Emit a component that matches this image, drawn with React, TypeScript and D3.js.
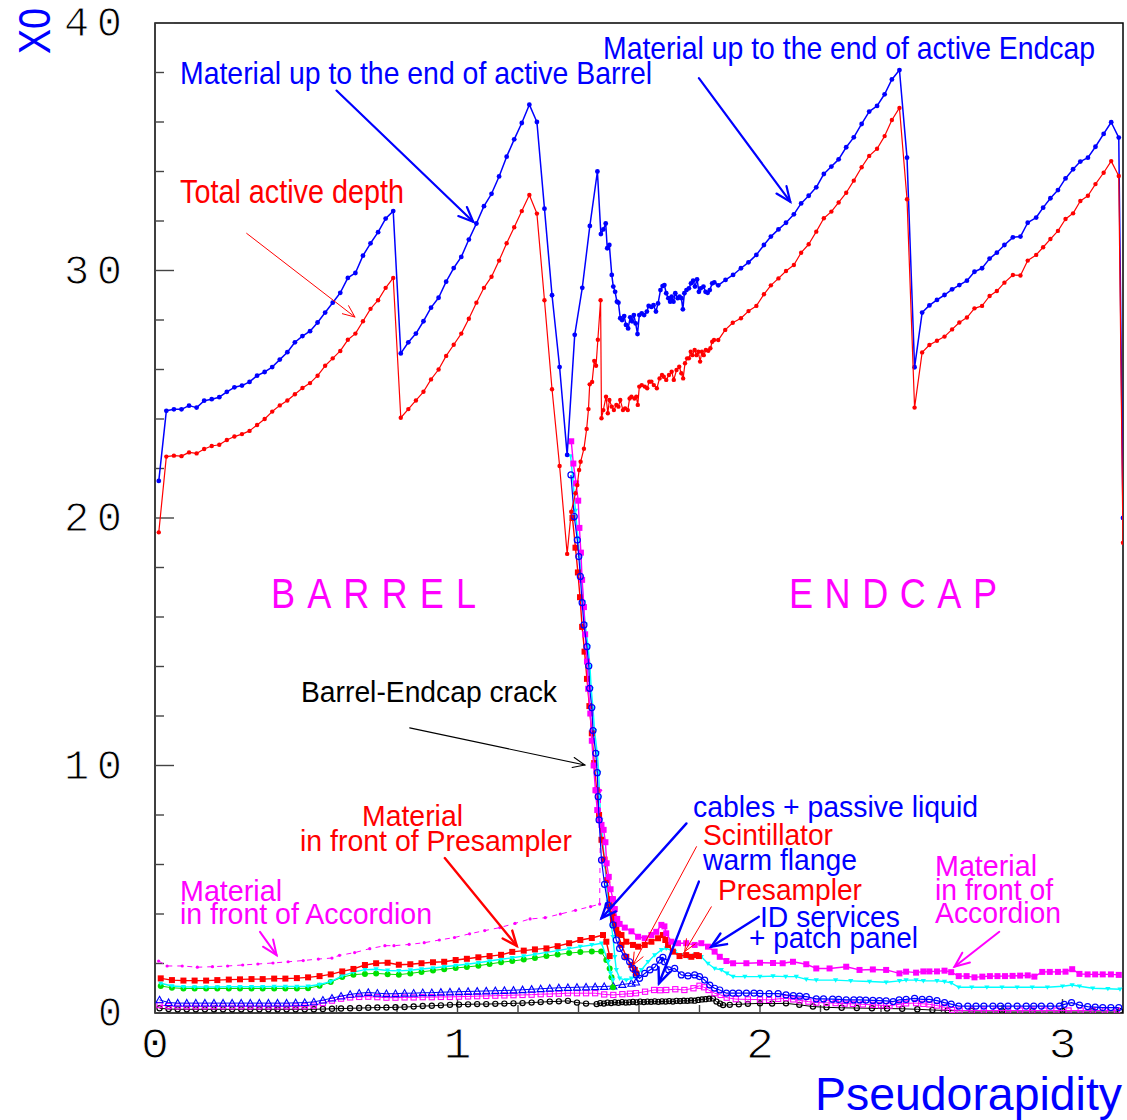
import React from "react";
import * as d3 from "d3";

type Pt = [number, number];

// ---------- data : [pseudorapidity, X0] ----------

// blue: material up to the end of the active calorimeter
const activeEnd: Pt[] = [
  [0.0125, 21.5], [0.0375, 24.33], [0.0625, 24.39], [0.0875, 24.39], [0.1125, 24.54], [0.1375, 24.46],
  [0.1625, 24.74], [0.1875, 24.8], [0.2125, 24.88], [0.2375, 25.1], [0.2625, 25.28], [0.2875, 25.35],
  [0.3125, 25.5], [0.3375, 25.75], [0.3625, 25.9], [0.3875, 26.1], [0.4125, 26.4], [0.4375, 26.7],
  [0.4625, 27.1], [0.4875, 27.35], [0.5125, 27.55], [0.5375, 27.9], [0.5625, 28.3], [0.5875, 28.7],
  [0.6125, 29.1], [0.6375, 29.7], [0.6625, 29.9], [0.6875, 30.6], [0.7125, 31.1], [0.7375, 31.55],
  [0.7625, 32.1], [0.7875, 32.4], [0.8125, 26.65], [0.8375, 27.1], [0.8625, 27.45], [0.8875, 27.95],
  [0.9125, 28.5], [0.9375, 28.9], [0.9625, 29.55], [0.9875, 30.1], [1.0125, 30.55], [1.0375, 31.25],
  [1.0625, 31.9], [1.0875, 32.6], [1.1125, 33.1], [1.1375, 33.8], [1.1625, 34.6], [1.1875, 35.3],
  [1.2125, 35.96], [1.2375, 36.7], [1.2625, 36.0], [1.2875, 32.5], [1.3125, 29.0], [1.3375, 26.1],
  [1.3625, 22.55], [1.3875, 27.4], [1.4125, 29.3], [1.4375, 31.8], [1.4625, 34.0],
  [1.474, 31.47], [1.482, 31.66], [1.49, 31.9], [1.495, 30.9], [1.502, 31.03], [1.51, 29.82],
  [1.515, 29.35], [1.521, 29.14], [1.527, 28.74], [1.532, 28.7], [1.538, 28.07], [1.544, 28.0],
  [1.551, 28.16], [1.557, 27.8], [1.564, 27.66], [1.571, 28.11], [1.577, 27.95], [1.583, 28.2],
  [1.589, 27.86], [1.595, 27.43], [1.601, 28.2], [1.609, 28.27], [1.617, 28.2], [1.626, 28.34],
  [1.632, 28.57], [1.641, 28.53], [1.648, 28.6], [1.656, 28.34], [1.663, 28.67], [1.671, 29.21],
  [1.678, 29.37], [1.684, 29.41], [1.69, 29.08], [1.697, 28.88], [1.703, 28.74], [1.708, 28.94],
  [1.714, 28.74], [1.72, 29.08], [1.728, 28.88], [1.734, 28.94], [1.74, 28.88], [1.745, 28.43],
  [1.75, 29.08], [1.757, 29.21], [1.765, 29.28], [1.772, 29.48], [1.779, 29.59], [1.785, 29.35],
  [1.792, 29.64], [1.798, 29.14], [1.804, 29.28], [1.813, 29.35], [1.82, 29.14], [1.827, 29.1],
  [1.834, 29.21], [1.842, 29.48], [1.849, 29.52],
  [1.862, 29.4], [1.886, 29.62], [1.911, 29.82], [1.937, 30.09], [1.962, 30.33], [1.988, 30.63],
  [2.013, 31.03], [2.036, 31.37], [2.061, 31.66], [2.086, 31.93], [2.112, 32.27], [2.136, 32.71],
  [2.161, 33.02], [2.186, 33.36], [2.211, 33.9], [2.236, 34.2], [2.26, 34.49], [2.285, 34.98],
  [2.31, 35.38], [2.336, 35.92], [2.361, 36.42], [2.387, 36.65], [2.412, 37.12], [2.436, 37.72],
  [2.461, 38.1], [2.486, 34.56], [2.511, 26.09], [2.536, 28.3], [2.56, 28.59], [2.585, 28.81],
  [2.61, 29.01], [2.635, 29.24], [2.659, 29.41], [2.684, 29.59], [2.709, 29.95], [2.734, 30.09],
  [2.759, 30.48], [2.783, 30.72], [2.808, 31.03], [2.836, 31.34], [2.861, 31.37], [2.885, 31.93],
  [2.913, 32.14], [2.936, 32.54], [2.96, 32.92], [2.985, 33.25], [3.01, 33.72], [3.035, 34.09],
  [3.059, 34.4], [3.084, 34.56], [3.109, 35.0], [3.136, 35.52], [3.161, 35.99], [3.186, 35.37],
  [3.2, 20.0],
];

// red: total active depth
const activeDepth: Pt[] = [
  [0.0125, 19.42], [0.0375, 22.48], [0.0625, 22.52], [0.0875, 22.5], [0.1125, 22.65], [0.1375, 22.61],
  [0.1625, 22.79], [0.1875, 22.91], [0.2125, 22.96], [0.2375, 23.15], [0.2625, 23.29], [0.2875, 23.39],
  [0.3125, 23.52], [0.3375, 23.76], [0.3625, 24.0], [0.3875, 24.3], [0.4125, 24.55], [0.4375, 24.75],
  [0.4625, 25.0], [0.4875, 25.25], [0.5125, 25.45], [0.5375, 25.75], [0.5625, 26.15], [0.5875, 26.45],
  [0.6125, 26.75], [0.6375, 27.2], [0.6625, 27.45], [0.6875, 27.95], [0.7125, 28.45], [0.7375, 28.8],
  [0.7625, 29.3], [0.7875, 29.7], [0.8125, 24.05], [0.8375, 24.4], [0.8625, 24.75], [0.8875, 25.1],
  [0.9125, 25.6], [0.9375, 26.0], [0.9625, 26.55], [0.9875, 27.0], [1.0125, 27.45], [1.0375, 28.05],
  [1.0625, 28.7], [1.0875, 29.3], [1.1125, 29.75], [1.1375, 30.4], [1.1625, 31.1], [1.1875, 31.75],
  [1.2125, 32.4], [1.2375, 33.05], [1.2625, 32.3], [1.2875, 28.8], [1.3125, 25.2], [1.3375, 22.1],
  [1.3625, 18.55], [1.376, 20.25], [1.39, 21.0], [1.396, 21.33], [1.402, 21.94], [1.407, 22.27],
  [1.418, 22.8], [1.427, 23.6], [1.433, 24.4], [1.437, 25.4], [1.445, 25.5], [1.452, 26.35],
  [1.458, 26.15], [1.464, 27.2], [1.473, 28.8], [1.476, 24.03],
  [1.482, 24.36], [1.491, 24.9], [1.497, 24.23], [1.502, 24.77], [1.51, 24.5], [1.517, 24.36],
  [1.525, 24.57], [1.532, 24.5], [1.538, 24.77], [1.547, 24.36], [1.554, 24.43], [1.563, 24.36],
  [1.569, 24.83], [1.575, 24.9], [1.585, 24.83], [1.591, 24.9], [1.596, 24.57], [1.601, 25.31],
  [1.609, 25.37], [1.619, 25.31], [1.627, 25.24], [1.634, 25.51], [1.641, 25.51], [1.649, 25.37],
  [1.659, 25.24], [1.668, 25.64], [1.676, 25.78], [1.682, 25.71], [1.69, 25.58], [1.699, 25.78],
  [1.708, 25.91], [1.715, 25.58], [1.724, 25.98], [1.733, 26.11], [1.74, 25.85], [1.746, 25.64],
  [1.752, 26.25], [1.759, 26.45], [1.765, 26.45], [1.771, 26.72], [1.776, 26.58], [1.784, 26.79],
  [1.79, 26.58], [1.796, 26.72], [1.802, 26.32], [1.808, 26.72], [1.814, 26.58], [1.821, 26.79],
  [1.829, 26.76], [1.836, 26.86], [1.842, 27.12], [1.848, 27.19],
  [1.862, 27.19], [1.885, 27.6], [1.91, 27.89], [1.937, 28.07], [1.962, 28.36], [1.988, 28.57],
  [2.013, 29.04], [2.036, 29.4], [2.061, 29.68], [2.086, 29.98], [2.112, 30.22], [2.136, 30.72],
  [2.161, 31.06], [2.186, 31.57], [2.211, 32.11], [2.236, 32.38], [2.26, 32.75], [2.285, 33.14],
  [2.31, 33.63], [2.336, 34.17], [2.361, 34.63], [2.387, 34.92], [2.412, 35.43], [2.436, 36.08],
  [2.461, 36.57], [2.486, 32.88], [2.511, 24.46], [2.536, 26.69], [2.56, 26.99], [2.585, 27.16],
  [2.61, 27.33], [2.635, 27.62], [2.659, 27.9], [2.684, 28.1], [2.709, 28.47], [2.734, 28.57],
  [2.759, 28.97], [2.783, 29.17], [2.808, 29.51], [2.836, 29.82], [2.861, 29.8], [2.885, 30.4],
  [2.913, 30.63], [2.936, 30.94], [2.96, 31.27], [2.985, 31.6], [3.01, 32.08], [3.035, 32.31],
  [3.059, 32.81], [3.084, 33.02], [3.109, 33.49], [3.136, 33.95], [3.161, 34.42], [3.186, 33.82],
  [3.2, 19.0],
];

// magenta dash-dot: material in front of accordion (barrel)
const accordionBarrel: Pt[] = [
  [0.012, 2.1], [0.04, 1.9], [0.09, 1.9], [0.14, 1.85], [0.19, 1.87], [0.24, 1.9], [0.29, 1.94],
  [0.34, 1.98], [0.39, 2.02], [0.44, 2.07], [0.49, 2.12], [0.54, 2.18], [0.585, 2.22], [0.61, 2.33],
  [0.66, 2.44], [0.71, 2.6], [0.76, 2.72], [0.79, 2.72], [0.84, 2.77], [0.89, 2.84], [0.94, 2.95],
  [0.99, 3.05], [1.04, 3.2], [1.09, 3.33], [1.14, 3.45], [1.19, 3.62], [1.24, 3.8], [1.29, 3.85],
  [1.34, 4.0], [1.39, 4.15], [1.44, 4.3], [1.47, 4.4], [1.473, 9.0],
];

// magenta squares: material in front of accordion (crack + endcap)
const accordionEndcap: Pt[] = [
  [1.376, 23.1], [1.383, 22.2], [1.392, 21.4], [1.399, 20.7], [1.403, 19.6], [1.408, 18.6], [1.412, 17.5],
  [1.418, 16.4], [1.422, 15.3], [1.428, 14.2], [1.432, 13.1], [1.439, 12.1], [1.444, 11.0], [1.45, 10.0],
  [1.456, 9.0], [1.462, 8.2], [1.469, 7.8], [1.476, 7.6], [1.483, 7.4], [1.489, 6.9], [1.493, 6.05],
  [1.5, 5.5], [1.506, 5.0], [1.514, 4.6], [1.52, 4.2], [1.528, 3.8], [1.536, 3.6], [1.553, 3.45],
  [1.575, 3.3], [1.597, 3.08], [1.619, 3.02], [1.641, 3.15], [1.657, 3.28], [1.674, 3.56], [1.684, 3.5],
  [1.69, 3.22], [1.707, 2.88], [1.729, 2.82], [1.756, 2.82], [1.784, 2.75], [1.806, 2.82], [1.828, 2.68],
  [1.85, 2.48], [1.867, 2.27], [1.889, 2.1], [1.911, 2.01], [1.955, 2.01], [2.0, 2.03], [2.043, 2.02],
  [2.075, 2.01], [2.109, 2.07], [2.153, 1.97], [2.186, 1.8], [2.23, 1.8], [2.285, 1.87], [2.329, 1.74],
  [2.373, 1.76], [2.417, 1.74], [2.461, 1.6], [2.483, 1.67], [2.516, 1.63], [2.54, 1.68], [2.56, 1.68],
  [2.585, 1.68], [2.61, 1.71], [2.632, 1.65], [2.657, 1.49], [2.683, 1.49], [2.709, 1.44], [2.735, 1.47],
  [2.76, 1.49], [2.785, 1.49], [2.81, 1.49], [2.835, 1.5], [2.86, 1.51], [2.885, 1.52], [2.907, 1.47],
  [2.933, 1.66], [2.958, 1.66], [2.985, 1.66], [3.01, 1.67], [3.032, 1.77], [3.056, 1.58], [3.083, 1.56],
  [3.108, 1.56], [3.133, 1.56], [3.16, 1.56], [3.186, 1.54],
];

// red squares: material in front of presampler (barrel)
const presamplerBarrel: Pt[] = [
  [0.019, 1.4], [0.056, 1.33], [0.094, 1.31], [0.131, 1.31], [0.169, 1.31], [0.206, 1.33], [0.244, 1.35],
  [0.281, 1.36], [0.319, 1.37], [0.356, 1.37], [0.394, 1.39], [0.431, 1.39], [0.469, 1.41], [0.506, 1.44],
  [0.544, 1.49], [0.581, 1.56], [0.619, 1.68], [0.656, 1.78], [0.694, 1.94], [0.731, 2.01], [0.769, 2.03],
  [0.806, 1.95], [0.844, 1.97], [0.881, 2.01], [0.919, 2.05], [0.956, 2.07], [0.994, 2.14], [1.031, 2.19],
  [1.069, 2.25], [1.106, 2.3], [1.144, 2.35], [1.181, 2.47], [1.219, 2.52], [1.256, 2.57], [1.294, 2.61],
  [1.331, 2.7], [1.369, 2.82], [1.406, 2.95], [1.444, 3.03], [1.481, 3.15], [1.492, 2.88], [1.503, 2.3],
];

// red squares: material in front of presampler (crack + endcap side)
const presamplerCrack: Pt[] = [
  [1.38, 20.0], [1.39, 18.8], [1.398, 17.8], [1.405, 16.8], [1.412, 15.6], [1.42, 14.6], [1.428, 13.5],
  [1.436, 12.4], [1.444, 11.3], [1.452, 10.1], [1.46, 9.0], [1.468, 8.0], [1.476, 7.0], [1.486, 6.2],
  [1.495, 5.37], [1.503, 4.3], [1.514, 3.76], [1.525, 3.42], [1.542, 3.15], [1.558, 2.88], [1.58, 2.75],
  [1.597, 2.68], [1.619, 2.75], [1.641, 2.88], [1.663, 3.02], [1.679, 3.15], [1.687, 2.95], [1.696, 2.75],
  [1.712, 2.48], [1.734, 2.3], [1.756, 2.34], [1.773, 2.27], [1.79, 2.34], [1.798, 2.3],
];

// red squares: scintillator
const scintillator: Pt[] = [
  [1.509, 4.6], [1.514, 4.0], [1.52, 3.62], [1.53, 3.2], [1.542, 2.75], [1.558, 2.27], [1.575, 1.94],
  [1.586, 1.74], [1.591, 1.6],
];

// cyan: barrel part
const cyanBarrel: Pt[] = [
  [0.019, 1.2], [0.056, 1.09], [0.094, 1.06], [0.131, 1.05], [0.169, 1.05], [0.206, 1.05], [0.244, 1.06],
  [0.281, 1.06], [0.319, 1.06], [0.356, 1.06], [0.394, 1.07], [0.431, 1.07], [0.469, 1.07], [0.506, 1.08],
  [0.544, 1.15], [0.581, 1.27], [0.619, 1.5], [0.656, 1.65], [0.694, 1.75], [0.731, 1.77], [0.769, 1.72],
  [0.806, 1.7], [0.844, 1.73], [0.881, 1.78], [0.919, 1.82], [0.956, 1.87], [0.994, 1.92], [1.031, 1.97],
  [1.069, 2.03], [1.106, 2.1], [1.144, 2.17], [1.181, 2.23], [1.219, 2.3], [1.256, 2.37], [1.294, 2.45],
  [1.331, 2.52], [1.369, 2.6], [1.406, 2.68], [1.444, 2.75], [1.476, 2.82], [1.498, 2.07], [1.506, 1.6],
  [1.514, 1.33],
];

// cyan: crack + endcap part
const cyanEndcap: Pt[] = [
  [1.374, 22.5], [1.381, 21.6], [1.39, 20.3], [1.398, 19.2], [1.404, 18.4], [1.41, 17.6], [1.416, 16.6],
  [1.422, 15.7], [1.432, 14.8], [1.438, 14.0], [1.442, 13.1], [1.448, 12.3], [1.453, 11.4], [1.462, 10.5],
  [1.467, 9.7], [1.47, 8.7], [1.474, 7.8], [1.48, 7.0], [1.488, 5.9], [1.493, 5.1], [1.498, 4.5],
  [1.503, 4.03], [1.509, 3.5], [1.514, 3.08], [1.52, 2.27], [1.525, 1.74], [1.536, 1.4], [1.558, 1.33],
  [1.575, 1.4], [1.591, 1.47], [1.608, 1.74], [1.63, 2.07], [1.652, 2.34], [1.674, 2.55], [1.69, 2.61],
  [1.718, 2.48], [1.74, 2.34], [1.762, 2.27], [1.784, 2.34], [1.806, 2.27], [1.828, 2.0], [1.85, 1.8],
  [1.872, 1.74], [1.891, 1.6], [1.911, 1.47], [1.95, 1.47], [2.0, 1.47], [2.043, 1.49], [2.085, 1.47],
  [2.12, 1.47], [2.153, 1.36], [2.186, 1.33], [2.25, 1.33], [2.3, 1.3], [2.362, 1.27], [2.417, 1.24],
  [2.461, 1.3], [2.483, 1.33], [2.516, 1.33], [2.54, 1.3], [2.585, 1.3], [2.61, 1.27], [2.632, 1.22],
  [2.657, 1.04], [2.7, 1.04], [2.75, 1.04], [2.8, 1.04], [2.85, 1.04], [2.9, 1.04], [2.95, 1.04],
  [3.0, 1.08], [3.032, 1.13], [3.056, 1.08], [3.1, 1.0], [3.15, 0.98], [3.19, 0.96],
];

// green dots (barrel only)
const greenBarrel: Pt[] = [
  [0.019, 1.09], [0.056, 1.02], [0.094, 0.99], [0.131, 0.99], [0.169, 0.99], [0.206, 0.99], [0.244, 0.99],
  [0.281, 0.99], [0.319, 0.99], [0.356, 0.99], [0.394, 0.99], [0.431, 0.99], [0.469, 0.99], [0.506, 1.0],
  [0.544, 1.1], [0.581, 1.25], [0.619, 1.45], [0.656, 1.55], [0.694, 1.58], [0.731, 1.6], [0.769, 1.57],
  [0.806, 1.55], [0.844, 1.6], [0.881, 1.66], [0.919, 1.72], [0.956, 1.77], [0.994, 1.82], [1.031, 1.86],
  [1.069, 1.91], [1.106, 1.98], [1.144, 2.05], [1.181, 2.1], [1.219, 2.16], [1.256, 2.22], [1.294, 2.3],
  [1.331, 2.36], [1.369, 2.42], [1.406, 2.46], [1.444, 2.48], [1.475, 2.48], [1.492, 2.14], [1.503, 1.8],
  [1.509, 1.44], [1.514, 1.04],
];

// blue open triangles
const blueTriangles: Pt[] = [
  [0.015, 0.53], [0.045, 0.42], [0.075, 0.4], [0.105, 0.4], [0.135, 0.4], [0.165, 0.4], [0.195, 0.4],
  [0.225, 0.4], [0.255, 0.4], [0.285, 0.4], [0.315, 0.4], [0.345, 0.4], [0.375, 0.4], [0.405, 0.4],
  [0.435, 0.4], [0.465, 0.41], [0.495, 0.42], [0.525, 0.45], [0.555, 0.52], [0.585, 0.6], [0.615, 0.68],
  [0.645, 0.75], [0.675, 0.8], [0.705, 0.83], [0.735, 0.8], [0.765, 0.78], [0.795, 0.78], [0.825, 0.8],
  [0.855, 0.8], [0.885, 0.82], [0.915, 0.82], [0.945, 0.84], [0.975, 0.85], [1.005, 0.86], [1.035, 0.87],
  [1.065, 0.88], [1.095, 0.89], [1.125, 0.9], [1.155, 0.91], [1.185, 0.92], [1.215, 0.94], [1.245, 0.96],
  [1.275, 0.98], [1.305, 1.0], [1.335, 1.02], [1.365, 1.03], [1.395, 1.04], [1.425, 1.05], [1.455, 1.06],
  [1.485, 1.07], [1.515, 1.09], [1.545, 1.15], [1.575, 1.2], [1.59, 1.25],
];

// magenta open squares
const magentaOpen: Pt[] = [
  [0.015, 0.32], [0.045, 0.28], [0.075, 0.27], [0.105, 0.27], [0.135, 0.27], [0.165, 0.27], [0.195, 0.27],
  [0.225, 0.27], [0.255, 0.27], [0.285, 0.27], [0.315, 0.27], [0.345, 0.27], [0.375, 0.27], [0.405, 0.27],
  [0.435, 0.27], [0.465, 0.27], [0.495, 0.27], [0.525, 0.3], [0.555, 0.4], [0.585, 0.5], [0.615, 0.58],
  [0.645, 0.63], [0.675, 0.65], [0.705, 0.66], [0.735, 0.64], [0.765, 0.62], [0.795, 0.62], [0.825, 0.63],
  [0.855, 0.63], [0.885, 0.64], [0.915, 0.64], [0.945, 0.65], [0.975, 0.65], [1.005, 0.66], [1.035, 0.67],
  [1.065, 0.68], [1.095, 0.69], [1.125, 0.7], [1.155, 0.71], [1.185, 0.72], [1.215, 0.73], [1.245, 0.74],
  [1.275, 0.76], [1.305, 0.77], [1.335, 0.78], [1.365, 0.8], [1.395, 0.8], [1.425, 0.8], [1.455, 0.8],
  [1.485, 0.75], [1.515, 0.73], [1.545, 0.76], [1.57, 0.78], [1.59, 0.8], [1.62, 0.86], [1.65, 0.93],
  [1.67, 0.92], [1.69, 0.93], [1.72, 0.96], [1.75, 0.93], [1.78, 1.0], [1.8, 1.1], [1.815, 1.04],
  [1.83, 0.93], [1.85, 0.8], [1.87, 0.73], [1.89, 0.62], [1.92, 0.56], [1.96, 0.55], [2.0, 0.54],
  [2.03, 0.53], [2.06, 0.57], [2.086, 0.6], [2.11, 0.55], [2.131, 0.51], [2.16, 0.46], [2.186, 0.42],
  [2.22, 0.41], [2.25, 0.4], [2.28, 0.38], [2.307, 0.37], [2.34, 0.35], [2.373, 0.33], [2.4, 0.31],
  [2.428, 0.3], [2.46, 0.35], [2.483, 0.39], [2.516, 0.4], [2.54, 0.37], [2.56, 0.35], [2.585, 0.3],
  [2.61, 0.23], [2.635, 0.12], [2.66, 0.1], [2.7, 0.1], [2.74, 0.1], [2.78, 0.1], [2.82, 0.1],
  [2.86, 0.1], [2.9, 0.1], [2.94, 0.1], [2.98, 0.1], [3.02, 0.1], [3.06, 0.1], [3.1, 0.1],
  [3.14, 0.1], [3.18, 0.1],
];

// black open circles
const blackCircles: Pt[] = [
  [0.015, 0.19], [0.045, 0.16], [0.075, 0.15], [0.105, 0.15], [0.135, 0.15], [0.165, 0.15], [0.195, 0.15],
  [0.225, 0.15], [0.255, 0.15], [0.285, 0.15], [0.315, 0.15], [0.345, 0.15], [0.375, 0.15], [0.405, 0.15],
  [0.435, 0.15], [0.465, 0.15], [0.495, 0.15], [0.525, 0.15], [0.555, 0.16], [0.585, 0.17], [0.615, 0.18],
  [0.645, 0.19], [0.675, 0.2], [0.705, 0.21], [0.735, 0.22], [0.765, 0.22], [0.795, 0.23], [0.825, 0.24],
  [0.855, 0.26], [0.885, 0.28], [0.915, 0.29], [0.945, 0.31], [0.975, 0.33], [1.005, 0.34], [1.035, 0.35],
  [1.065, 0.36], [1.095, 0.36], [1.125, 0.37], [1.155, 0.38], [1.185, 0.39], [1.215, 0.4], [1.245, 0.42],
  [1.275, 0.44], [1.305, 0.46], [1.335, 0.47], [1.365, 0.49], [1.395, 0.42], [1.425, 0.38], [1.46, 0.36],
  [1.472, 0.4], [1.484, 0.38], [1.496, 0.42], [1.508, 0.4], [1.52, 0.43], [1.532, 0.41], [1.544, 0.44],
  [1.556, 0.42], [1.568, 0.43], [1.58, 0.45], [1.592, 0.43], [1.604, 0.46], [1.616, 0.44], [1.628, 0.46],
  [1.64, 0.45], [1.652, 0.47], [1.664, 0.45], [1.676, 0.47], [1.688, 0.46], [1.7, 0.48], [1.712, 0.46],
  [1.724, 0.49], [1.736, 0.48], [1.748, 0.5], [1.76, 0.49], [1.772, 0.51], [1.784, 0.5], [1.796, 0.53],
  [1.808, 0.55], [1.82, 0.56], [1.832, 0.58], [1.844, 0.59], [1.856, 0.46], [1.868, 0.38], [1.878, 0.32],
  [1.9, 0.33], [1.93, 0.35], [1.96, 0.37], [2.0, 0.39], [2.04, 0.38], [2.086, 0.39], [2.13, 0.33],
  [2.175, 0.26], [2.22, 0.23], [2.27, 0.21], [2.32, 0.2], [2.37, 0.19], [2.42, 0.18], [2.47, 0.17],
  [2.52, 0.15], [2.57, 0.12], [2.62, 0.1], [2.7, 0.08], [2.8, 0.08], [2.9, 0.08], [3.0, 0.08],
  [3.1, 0.08], [3.19, 0.08],
];

// blue open circles: cables + passive liquid, warm flange, ID services
const blueCircles: Pt[] = [
  [1.375, 21.74], [1.386, 20.06], [1.396, 19.11], [1.401, 18.44], [1.406, 17.64], [1.412, 16.58],
  [1.418, 15.68], [1.428, 14.8], [1.434, 14.02], [1.437, 13.12], [1.444, 12.34], [1.448, 11.41],
  [1.457, 10.49], [1.462, 9.71], [1.465, 8.74], [1.468, 7.8], [1.476, 6.18], [1.486, 5.2], [1.498, 4.36],
  [1.514, 3.56], [1.525, 2.95], [1.536, 2.61], [1.553, 2.27], [1.569, 2.07], [1.58, 1.8], [1.591, 1.54],
  [1.602, 1.4], [1.619, 1.6], [1.636, 1.74], [1.652, 1.85], [1.668, 2.14], [1.679, 2.25], [1.684, 2.07],
  [1.698, 1.74], [1.718, 1.8], [1.74, 1.54], [1.762, 1.5], [1.784, 1.54], [1.8, 1.47], [1.817, 1.33],
  [1.834, 1.13], [1.85, 1.0], [1.867, 0.93], [1.889, 0.8], [1.91, 0.8], [1.93, 0.8], [1.955, 0.8],
  [1.98, 0.8], [2.0, 0.79], [2.03, 0.78], [2.06, 0.78], [2.086, 0.73], [2.11, 0.7], [2.131, 0.68],
  [2.153, 0.66], [2.186, 0.57], [2.21, 0.57], [2.24, 0.56], [2.26, 0.55], [2.285, 0.53], [2.31, 0.53],
  [2.33, 0.53], [2.35, 0.52], [2.373, 0.51], [2.395, 0.5], [2.417, 0.49], [2.44, 0.46], [2.46, 0.53],
  [2.483, 0.55], [2.511, 0.59], [2.536, 0.55], [2.56, 0.55], [2.585, 0.5], [2.61, 0.42], [2.632, 0.36],
  [2.657, 0.28], [2.687, 0.28], [2.714, 0.28], [2.74, 0.28], [2.77, 0.28], [2.795, 0.28], [2.82, 0.28],
  [2.85, 0.28], [2.88, 0.28], [2.905, 0.28], [2.93, 0.28], [2.96, 0.28], [2.99, 0.28], [3.006, 0.35],
  [3.03, 0.42], [3.056, 0.32], [3.083, 0.26], [3.108, 0.24], [3.133, 0.22], [3.16, 0.22], [3.186, 0.22],
];

// annotation arrows [from, to] in (eta, X0)
const arrowsData: { from: Pt; to: Pt; color: string; width: number }[] = [
  { from: [0.6, 37.27], to: [1.052, 31.97], color: "#0000ff", width: 2.2 },
  { from: [1.798, 37.77], to: [2.1, 32.78], color: "#0000ff", width: 2.2 },
  { from: [0.303, 31.5], to: [0.661, 28.12], color: "#ff0000", width: 1 },
  { from: [0.842, 11.52], to: [1.421, 10.02], color: "#000000", width: 1.1 },
  { from: [0.958, 6.26], to: [1.196, 2.71], color: "#ff0000", width: 2.4 },
  { from: [0.347, 3.28], to: [0.402, 2.34], color: "#ff00ff", width: 2 },
  { from: [1.757, 7.66], to: [1.476, 3.83], color: "#0000ff", width: 2.4 },
  { from: [1.79, 6.72], to: [1.58, 1.94], color: "#ff0000", width: 1 },
  { from: [1.798, 5.31], to: [1.666, 1.2], color: "#0000ff", width: 2.4 },
  { from: [1.839, 4.29], to: [1.751, 2.48], color: "#ff0000", width: 1 },
  { from: [1.996, 3.89], to: [1.839, 2.68], color: "#0000ff", width: 2.4 },
  { from: [2.791, 3.28], to: [2.643, 1.87], color: "#ff00ff", width: 2 },
];

// annotation texts
const labels: { text: string; x: number; y: number; w: number; color: string; size: number; sp?: boolean }[] = [
  { text: "Material up to the end of active Barrel", x: 180, y: 84, w: 472, color: "#0000ff", size: 32 },
  { text: "Material up to the end of active Endcap", x: 603, y: 59, w: 492, color: "#0000ff", size: 32 },
  { text: "Total active depth", x: 180, y: 203, w: 224, color: "#ff0000", size: 33 },
  { text: "Barrel-Endcap crack", x: 301, y: 702, w: 256, color: "#000000", size: 30 },
  { text: "BARREL", x: 271, y: 608, w: 205, color: "#ff00ff", size: 43, sp: true },
  { text: "ENDCAP", x: 789, y: 608, w: 208, color: "#ff00ff", size: 43, sp: true },
  { text: "Material", x: 362, y: 826, w: 101, color: "#ff0000", size: 30 },
  { text: "in front of Presampler", x: 300, y: 851, w: 272, color: "#ff0000", size: 30 },
  { text: "Material", x: 180, y: 901, w: 102, color: "#ff00ff", size: 30 },
  { text: "in front of Accordion", x: 180, y: 924, w: 252, color: "#ff00ff", size: 30 },
  { text: "cables + passive liquid", x: 693, y: 817, w: 285, color: "#0000ff", size: 30 },
  { text: "Scintillator", x: 703, y: 845, w: 130, color: "#ff0000", size: 30 },
  { text: "warm flange", x: 703, y: 870, w: 154, color: "#0000ff", size: 30 },
  { text: "Presampler", x: 718, y: 900, w: 144, color: "#ff0000", size: 30 },
  { text: "ID services", x: 760, y: 927, w: 140, color: "#0000ff", size: 30 },
  { text: "+ patch panel", x: 749, y: 948, w: 169, color: "#0000ff", size: 30 },
  { text: "Material", x: 935, y: 876, w: 102, color: "#ff00ff", size: 30 },
  { text: "in front of", x: 935, y: 900, w: 118, color: "#ff00ff", size: 30 },
  { text: "Accordion", x: 935, y: 923, w: 126, color: "#ff00ff", size: 30 },
];

// ---------- layout ----------
const W = 1127;
const H = 1120;
const PLOT = { left: 155, right: 1123, top: 23, bottom: 1013 };

const x = d3.scaleLinear().domain([0, 3.2]).range([PLOT.left, PLOT.right]);
const y = d3.scaleLinear().domain([0, 40]).range([PLOT.bottom, PLOT.top]);

const NARROW = "'Liberation Sans Narrow', 'Arial Narrow', 'Liberation Sans', Arial, sans-serif";
const MONO = "'Liberation Mono', 'Courier New', 'DejaVu Sans Mono', monospace";
const CAPS_SCALE = 0.84;

type Marker = "dot" | "square" | "osquare" | "ocircle" | "otri" | "tridown" | "none";

interface Series {
  data: Pt[];
  color: string;
  width: number;
  dash?: string;
  marker: Marker;
  size: number;
}

const series: Series[] = [
  { data: blackCircles, color: "#000000", width: 1, marker: "ocircle", size: 2.6 },
  { data: magentaOpen, color: "#ff00ff", width: 1, marker: "osquare", size: 2.6 },
  { data: blueTriangles, color: "#0000ff", width: 1, marker: "otri", size: 3.6 },
  { data: greenBarrel, color: "#00e000", width: 1, marker: "dot", size: 3 },
  { data: cyanBarrel, color: "#00ffff", width: 1.4, marker: "tridown", size: 2.6 },
  { data: cyanEndcap, color: "#00ffff", width: 1.4, marker: "tridown", size: 2.6 },
  { data: presamplerBarrel, color: "#ff0000", width: 1.4, marker: "square", size: 3 },
  { data: accordionBarrel, color: "#ff00ff", width: 1, dash: "5 5", marker: "dot", size: 1.6 },
  { data: scintillator, color: "#ff0000", width: 1.4, marker: "square", size: 3 },
  { data: presamplerCrack, color: "#ff0000", width: 1.4, marker: "square", size: 3 },
  { data: accordionEndcap, color: "#ff00ff", width: 1.4, marker: "square", size: 3 },
  { data: blueCircles, color: "#0000ff", width: 1.2, marker: "ocircle", size: 3 },
  { data: activeEnd, color: "#0000ff", width: 1.5, marker: "dot", size: 2.4 },
  { data: activeDepth, color: "#ff0000", width: 1.2, marker: "dot", size: 2.2 },
];

const line = d3
  .line<Pt>()
  .x((d) => x(d[0]))
  .y((d) => y(d[1]));

function drawMarker(m: Marker, cx: number, cy: number, s: number, color: string, key: number) {
  switch (m) {
    case "dot":
      return <circle key={key} cx={cx} cy={cy} r={s} fill={color} />;
    case "square":
      return <rect key={key} x={cx - s} y={cy - s} width={2 * s} height={2 * s} fill={color} />;
    case "osquare":
      return (
        <rect key={key} x={cx - s} y={cy - s} width={2 * s} height={2 * s} fill="none" stroke={color} strokeWidth={1.1} />
      );
    case "ocircle":
      return <circle key={key} cx={cx} cy={cy} r={s} fill="none" stroke={color} strokeWidth={1.2} />;
    case "otri":
      return (
        <path
          key={key}
          d={`M${cx},${cy - s}L${cx + s},${cy + s * 0.8}L${cx - s},${cy + s * 0.8}Z`}
          fill="none"
          stroke={color}
          strokeWidth={1.1}
        />
      );
    case "tridown":
      return (
        <path key={key} d={`M${cx - s},${cy - s * 0.7}L${cx + s},${cy - s * 0.7}L${cx},${cy + s}Z`} fill={color} />
      );
    default:
      return null;
  }
}

function Arrow({ from, to, color, width }: { from: Pt; to: Pt; color: string; width: number }) {
  const x1 = x(from[0]);
  const y1 = y(from[1]);
  const x2 = x(to[0]);
  const y2 = y(to[1]);
  const a = Math.atan2(y2 - y1, x2 - x1);
  const len = width > 1.5 ? 16 : 13;
  const spread = 0.4;
  const h1 = [x2 - len * Math.cos(a - spread), y2 - len * Math.sin(a - spread)];
  const h2 = [x2 - len * Math.cos(a + spread), y2 - len * Math.sin(a + spread)];
  return (
    <g stroke={color} strokeWidth={width} fill="none" strokeLinecap="round">
      <line x1={x1} y1={y1} x2={x2} y2={y2} />
      <polyline points={`${h1[0]},${h1[1]} ${x2},${y2} ${h2[0]},${h2[1]}`} />
    </g>
  );
}

export default function App() {
  const yTicks = y.ticks(20);
  const xTicks = x.ticks(16);

  return (
    <svg
      width={W}
      height={H}
      viewBox={`0 0 ${W} ${H}`}
      style={{ position: "absolute", left: 0, top: 0, background: "#fff" }}
    >
      <defs>
        <clipPath id="plotClip">
          <rect x={PLOT.left} y={PLOT.top} width={PLOT.right - PLOT.left} height={PLOT.bottom - PLOT.top} />
        </clipPath>
      </defs>
      <rect width={W} height={H} fill="#fff" />

      {/* frame */}
      <rect
        x={PLOT.left}
        y={PLOT.top}
        width={PLOT.right - PLOT.left}
        height={PLOT.bottom - PLOT.top}
        fill="none"
        stroke="#000"
        strokeWidth={1.5}
      />

      {/* y ticks */}
      {yTicks.map((t) => (
        <line
          key={"yt" + t}
          x1={PLOT.left}
          x2={PLOT.left + (t % 10 === 0 ? 19 : 9)}
          y1={y(t)}
          y2={y(t)}
          stroke="#444"
          strokeWidth={1.4}
        />
      ))}
      {/* x ticks */}
      {xTicks.map((t) => (
        <line
          key={"xt" + t}
          x1={x(t)}
          x2={x(t)}
          y1={PLOT.bottom}
          y2={PLOT.bottom - (Math.abs(t - Math.round(t)) < 1e-6 ? 14 : 8)}
          stroke="#444"
          strokeWidth={1.4}
        />
      ))}

      {/* y tick labels */}
      {[0, 10, 20, 30, 40].map((t) => (
        <text
          key={"yl" + t}
          x={122}
          y={y(t) + 13}
          textAnchor="end"
          fontFamily={MONO}
          fontSize={42}
          fill="#000"
          stroke="#fff"
          strokeWidth={1}
          textLength={String(t).length > 1 ? 58 : 24}
          lengthAdjust={String(t).length > 1 ? "spacing" : "spacingAndGlyphs"}
        >
          {t}
        </text>
      ))}
      {/* x tick labels */}
      {[0, 1, 2, 3].map((t) => (
        <text
          key={"xl" + t}
          x={x(t)}
          y={1058}
          textAnchor="middle"
          fontFamily={MONO}
          fontSize={44}
          fill="#000"
          stroke="#fff"
          strokeWidth={1}
          textLength={28}
          lengthAdjust="spacingAndGlyphs"
        >
          {t}
        </text>
      ))}

      {/* axis titles */}
      <text
        x={815}
        y={1110}
        fontFamily="'Liberation Sans', Arial, sans-serif"
        fontSize={46}
        fill="#0000ff"
        textLength={307}
        lengthAdjust="spacingAndGlyphs"
      >
        Pseudorapidity
      </text>
      <text
        transform="translate(50,54) rotate(-90)"
        fontFamily="'Liberation Sans', Arial, sans-serif"
        fontSize={44}
        fill="#0000ff"
        textLength={46}
        lengthAdjust="spacingAndGlyphs"
      >
        X0
      </text>

      {/* series */}
      <g clipPath="url(#plotClip)">
        {series.map((s, i) => (
          <g key={"s" + i}>
            <path
              d={line(s.data) || ""}
              fill="none"
              stroke={s.color}
              strokeWidth={s.width}
              strokeDasharray={s.dash}
              strokeLinejoin="round"
            />
            {s.data.map((d, j) => drawMarker(s.marker, x(d[0]), y(d[1]), s.size, s.color, j))}
          </g>
        ))}
      </g>

      {/* arrows */}
      {arrowsData.map((a, i) => (
        <Arrow key={"a" + i} {...a} />
      ))}

      {/* labels */}
      {labels.map((l, i) =>
        l.sp ? (
          <text
            key={"l" + i}
            transform={`translate(${l.x},${l.y}) scale(${CAPS_SCALE},1)`}
            fontFamily="'Liberation Sans', Arial, sans-serif"
            fontSize={l.size}
            fill={l.color}
            textLength={l.w / CAPS_SCALE}
            lengthAdjust="spacing"
          >
            {l.text}
          </text>
        ) : (
          <text
            key={"l" + i}
            x={l.x}
            y={l.y}
            fontFamily={NARROW}
            fontSize={l.size}
            fill={l.color}
            textLength={l.w}
            lengthAdjust="spacingAndGlyphs"
          >
            {l.text}
          </text>
        )
      )}
    </svg>
  );
}
